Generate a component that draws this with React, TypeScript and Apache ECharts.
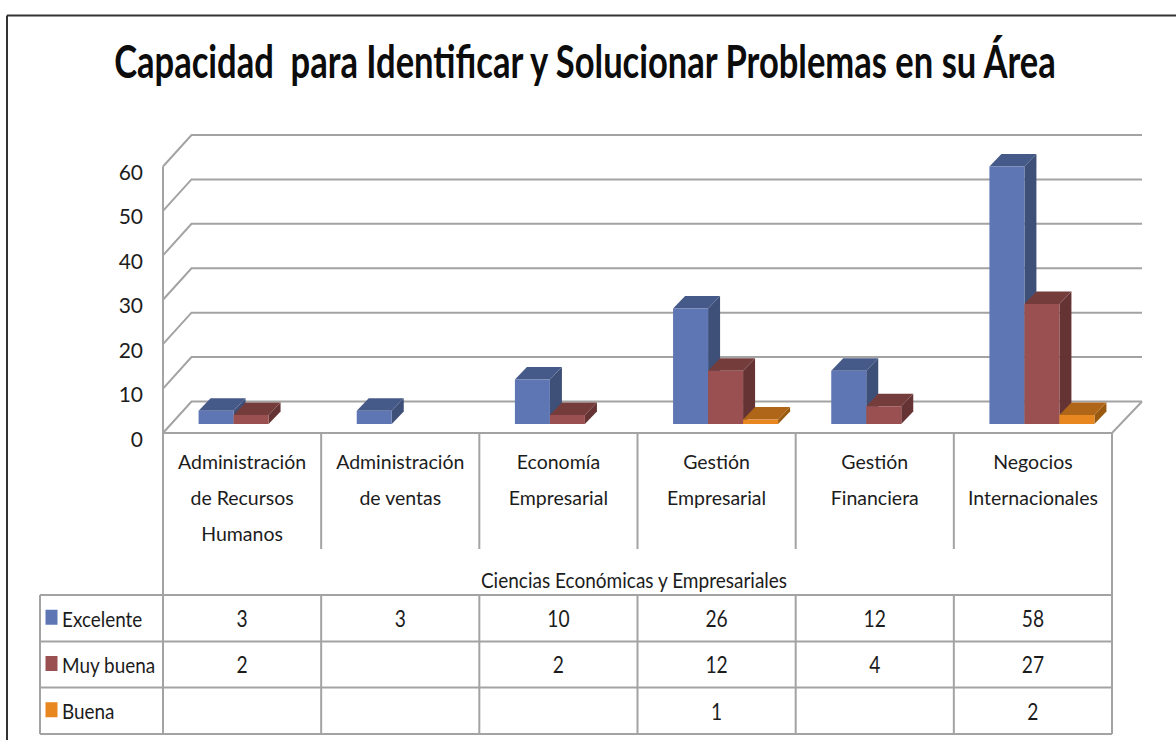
import React, { useEffect, useRef } from "react";
import * as echarts from "echarts";

const titleText = "Capacidad  para Identificar y Solucionar Problemas en su Área";
const groupLabel = "Ciencias Económicas y Empresariales";
const categories = [
  "Administración\nde Recursos\nHumanos",
  "Administración\nde ventas",
  "Economía\nEmpresarial",
  "Gestión\nEmpresarial",
  "Gestión\nFinanciera",
  "Negocios\nInternacionales",
];
const seriesNames = ["Excelente", "Muy buena", "Buena"];
const excelente = [3, 3, 10, 26, 12, 58];
const muyBuena = [2, null, 2, 12, 4, 27];
const buena = [null, null, null, 1, null, 2];
const yTicks = [0, 10, 20, 30, 40, 50, 60];

const FONT = "Lato, sans-serif";
const TEXT = "#1c1c1c";
const LINE = "#a3a3a3";
const palettes = [
  { front: "#5f76b4", side: "#3e4f78", top: "#465a89" },
  { front: "#9a5050", side: "#653333", top: "#753c3c" },
  { front: "#e8861f", side: "#99590f", top: "#af6618" },
];

const G = { left: 163, right: 1112, top: 166.5, bottom: 433 };
const WALL = { dx: 28.5, dy: -31.5 };
const BAR = { widthShare: 0.2213, lift: 9, shift: 9, dx: 12, dy: -12.5 };
const TABLE = { left: 40, bandTop: 549, rows: [595, 641.5, 687.5, 734] };

function wallItem(params: any, api: any) {
  const v = api.value(0);
  const { x, width } = params.coordSys;
  const [, y] = api.coord([0, v]);
  const style = { stroke: LINE, lineWidth: 2, fill: "none" };
  const children: any[] = [
    {
      type: "polyline",
      shape: { points: [[x, y], [x + WALL.dx, y + WALL.dy], [x + width + 30, y + WALL.dy]] },
      style,
    },
  ];
  if (v === 0) {
    children.push({
      type: "polyline",
      shape: { points: [[x + width + 30, y + WALL.dy], [x + width, y], [x, y]] },
      style,
    });
  }
  if (v === yTicks[yTicks.length - 1]) {
    children.push({
      type: "line",
      shape: { x1: x, y1: y, x2: x, y2: api.coord([0, 0])[1] },
      style,
    });
  }
  return { type: "group", children };
}

function barItem(seriesIdx: number) {
  return (_params: any, api: any) => {
    const [cx, y0] = api.coord([api.value(0), 0]);
    const [, yv] = api.coord([api.value(0), api.value(1)]);
    const band = api.size([1, 0])[0];
    const w = band * BAR.widthShare;
    const x1 = cx - 1.5 * w + BAR.shift + seriesIdx * w;
    const x2 = x1 + w;
    const b = y0 - BAR.lift;
    const t = yv - BAR.lift;
    const c = palettes[seriesIdx];
    const { dx, dy } = BAR;
    return {
      type: "group",
      children: [
        { type: "polygon", shape: { points: [[x2, t], [x2 + dx, t + dy], [x2 + dx, b + dy], [x2, b]] }, style: { fill: c.side } },
        { type: "polygon", shape: { points: [[x1, t], [x1 + dx, t + dy], [x2 + dx, t + dy], [x2, t]] }, style: { fill: c.top } },
        { type: "rect", shape: { x: x1, y: t, width: w, height: b - t }, style: { fill: c.front } },
      ],
    };
  };
}

const toData = (vals: (number | null)[]) =>
  vals.map((v, i) => [i, v]).filter((d) => d[1] !== null);

function tableGraphics() {
  const band = (G.right - G.left) / categories.length;
  const line = (x1: number, y1: number, x2: number, y2: number) => ({
    type: "line",
    silent: true,
    shape: { x1, y1, x2, y2 },
    style: { stroke: LINE, lineWidth: 2 },
  });
  const out: any[] = [];
  out.push({
    type: "text",
    x: 585,
    y: 60,
    scaleX: 0.751,
    style: { text: titleText, font: `bold 46px ${FONT}`, fill: "#0c0c0c", align: "center", verticalAlign: "middle" },
  });
  out.push({ type: "line", shape: { x1: 7, y1: 15.5, x2: 1176, y2: 15.5 }, style: { stroke: "#333", lineWidth: 2 } });
  out.push({ type: "line", shape: { x1: 7, y1: 15.5, x2: 7, y2: 740 }, style: { stroke: "#333", lineWidth: 2 } });
  out.push(line(G.left, G.bottom, G.left, TABLE.rows[3]));
  out.push(line(G.right, G.bottom, G.right, TABLE.rows[3]));
  categories.forEach((_, i) => {
    if (i === 0) return;
    const x = G.left + band * i;
    out.push(line(x, G.bottom, x, TABLE.bandTop));
    out.push(line(x, TABLE.rows[0], x, TABLE.rows[3]));
  });
  out.push(line(TABLE.left, TABLE.rows[0], TABLE.left, TABLE.rows[3]));
  TABLE.rows.forEach((y) => out.push(line(TABLE.left, y, G.right, y)));
  out.push({
    type: "text",
    x: 634,
    y: 579,
    scaleX: 0.865,
    style: { text: groupLabel, font: `22px ${FONT}`, fill: TEXT, align: "center", verticalAlign: "middle" },
  });
  [excelente, muyBuena, buena].forEach((vals, r) => {
    const cy = (TABLE.rows[r] + TABLE.rows[r + 1]) / 2;
    out.push({
      type: "rect",
      shape: { x: 45.5, y: cy - 8.5, width: 12, height: 15 },
      style: { fill: palettes[r].front },
    });
    out.push({
      type: "text",
      x: 62,
      y: cy,
      scaleX: 0.86,
      style: { text: seriesNames[r], font: `22px ${FONT}`, fill: TEXT, align: "left", verticalAlign: "middle" },
    });
    vals.forEach((v, i) => {
      if (v === null) return;
      out.push({
        type: "text",
        x: G.left + band * (i + 0.5),
        y: cy,
        scaleX: 0.8,
        style: { text: String(v), font: `24px ${FONT}`, fill: TEXT, align: "center", verticalAlign: "middle" },
      });
    });
  });
  return out;
}

export default function App() {
  const ref = useRef<HTMLDivElement>(null);
  useEffect(() => {
    if (!ref.current) return;
    const chart = echarts.init(ref.current, undefined, { renderer: "svg" });
    chart.setOption({
      animation: false,
      backgroundColor: "#ffffff",
      grid: { left: G.left, top: G.top, width: G.right - G.left, height: G.bottom - G.top },
      xAxis: {
        type: "category",
        data: categories,
        axisLine: { show: false },
        axisTick: { show: false },
        axisLabel: { interval: 0, margin: 10, fontFamily: FONT, fontSize: 19.5, lineHeight: 36, color: TEXT },
      },
      yAxis: {
        type: "value",
        min: 0,
        max: 60,
        interval: 10,
        axisLine: { show: false },
        axisTick: { show: false },
        splitLine: { show: false },
        axisLabel: {
          margin: 20,
          verticalAlign: "top",
          lineHeight: 10,
          fontFamily: FONT,
          fontSize: 21,
          color: TEXT,
        },
      },
      graphic: tableGraphics(),
      series: [
        {
          type: "custom",
          name: "grid",
          silent: true,
          z: 1,
          renderItem: wallItem,
          data: yTicks.map((v) => [v]),
          encode: { y: 0 },
        },
        ...[excelente, muyBuena, buena].map((vals, i) => ({
          type: "custom",
          name: seriesNames[i],
          z: 2 + i,
          renderItem: barItem(i),
          data: toData(vals),
          encode: { x: 0, y: 1 },
        })),
      ],
    });
    return () => chart.dispose();
  }, []);
  return (
    <div
      ref={ref}
      style={{ position: "absolute", left: 0, top: 0, width: 1176, height: 740, overflow: "hidden" }}
    />
  );
}
